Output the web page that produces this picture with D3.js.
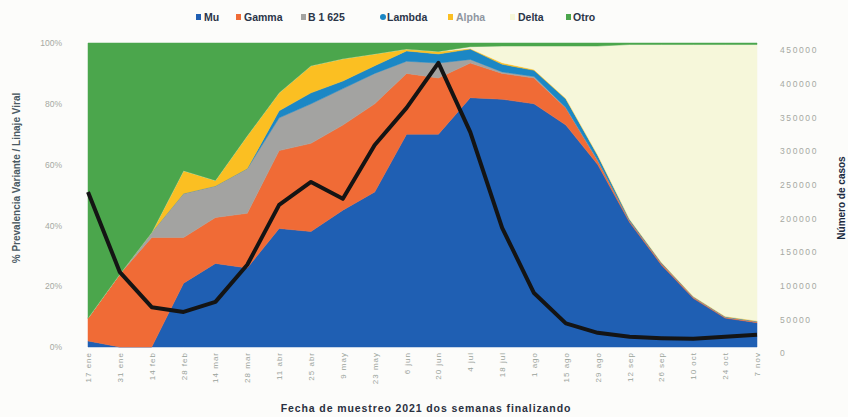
<!DOCTYPE html>
<html><head><meta charset="utf-8">
<script src="https://cdn.jsdelivr.net/npm/d3@7"></script>
<style>
html,body{margin:0;padding:0;background:#fcfcfa;}
svg{display:block;font-family:"Liberation Sans",Arial,sans-serif;}
</style></head>
<body>
<svg id="c" width="848" height="417"></svg>
<script>
// ---- data ----
const dates = ["17 ene","31 ene","14 feb","28 feb","14 mar","28 mar","11 abr","25 abr","9 may","23 may","6 jun","20 jun","4 jul","18 jul","1 ago","15 ago","29 ago","12 sep","26 sep","10 oct","24 oct","7 nov"];
const seriesNames = ["Mu","Gamma","B 1 625","Lambda","Alpha","Delta","Otro"];
const mu     = [2,0,0,21,27.5,26,39,38,45,51,70,70,82,81.5,80,73,60,41,27,16,9.5,8];
const gamma  = [7.5,24,36,15,15.1,18,25.6,29,28,29,20,18.5,11.4,8.5,8.5,5.6,1.3,0.5,0.5,0.4,0.3,0.3];
const b1625  = [0,0,1.7,14.5,10.4,14.7,10.8,13,12,10,4,4.9,1.2,0.5,0.5,0.2,0.2,0.1,0.1,0.1,0.1,0.1];
const lambda = [0,0,0,0,0,0,2.3,3.6,2.5,2.5,3.4,3,3.4,2.5,2,2.8,1.5,0.4,0.2,0.1,0.1,0.1];
const alpha  = [0,0,0,7.5,1.8,10.8,5.9,8.9,7.3,3.9,0.6,0.8,0.2,0.5,0.3,0.2,0.2,0.1,0.1,0.1,0.1,0.1];
const delta  = [0,0,0,0,0,0,0,0,0,0,0,0,0.6,5.5,7.7,17.2,35.8,57.4,71.6,82.8,89.4,90.9];
const otro   = [90.5,76,62.3,42,45.2,30.5,16.4,7.5,5.2,3.6,2,2.8,1.2,1,1,1,1,0.5,0.5,0.5,0.5,0.5];
const casos  = [239000,120000,68000,61000,76000,131000,220000,254000,229000,309000,364000,431000,328000,186000,89000,44000,30000,24000,22000,21000,24000,27000];
const leftTicks  = [0,20,40,60,80,100];
const rightTicks = [0,50000,100000,150000,200000,250000,300000,350000,400000,450000];

// ---- styles / layout ----
const colors = {"Mu":"#1f5fb3","Gamma":"#f06b36","B 1 625":"#a3a3a1","Lambda":"#1b87c5","Alpha":"#fbbf22","Delta":"#f6f7da","Otro":"#4ba64c"};
const legendPos = [[198,204],[238,244],[303,308],[382,387],[450,456],[512,518],[568,573]];

const svg = d3.select("#c");
const x  = d3.scalePoint().domain(dates).range([88, 757]);
const yL = d3.scaleLinear().domain([0,100]).range([347, 43]);
const yR = d3.scaleLinear().domain([0,450000]).range([353, 50]);

const table = dates.map((d,i)=>({date:d,"Mu":mu[i],"Gamma":gamma[i],"B 1 625":b1625[i],"Lambda":lambda[i],"Alpha":alpha[i],"Delta":delta[i],"Otro":otro[i]}));
const stacked = d3.stack().keys(seriesNames)(table);
const area = d3.area().x(d=>x(d.data.date)).y0(d=>yL(d[0])).y1(d=>yL(d[1]));

svg.append("g").selectAll("path").data(stacked).join("path")
  .attr("d", area).attr("fill", d=>colors[d.key]).attr("stroke", d=>colors[d.key]).attr("stroke-width",0.5);

// cases line
svg.append("path").datum(casos)
  .attr("d", d3.line().x((d,i)=>x(dates[i])).y(d=>yR(d)))
  .attr("fill","none").attr("stroke","#141414").attr("stroke-width",4).attr("stroke-linejoin","round");

// left axis
const gl = svg.append("g").attr("transform","translate(62,0)")
  .call(d3.axisLeft(yL).tickValues(leftTicks).tickFormat(d=>d+"%").tickSize(0).tickPadding(0));
gl.select(".domain").remove();
gl.selectAll("text").attr("fill","#a6a9a2").attr("font-size",8.5).attr("font-family","Liberation Sans, Arial");

// right axis
const gr = svg.append("g").attr("transform","translate(780,0)")
  .call(d3.axisRight(yR).tickValues(rightTicks).tickFormat(d3.format("d")).tickSize(0).tickPadding(0));
gr.select(".domain").remove();
gr.selectAll("text").attr("fill","#a6a9a2").attr("font-size",8.5).attr("letter-spacing",1.6).attr("font-family","Liberation Sans, Arial");

// x axis
const gx = svg.append("g").attr("transform","translate(0,352)")
  .call(d3.axisBottom(x).tickSize(0).tickPadding(0));
gx.select(".domain").remove();
gx.selectAll("text").attr("fill","#9aa39a").attr("font-size",8).attr("letter-spacing",1)
  .attr("text-anchor","end").attr("dy","0.32em").attr("transform","rotate(-90)").attr("x",0).attr("y",0);

// axis titles
svg.append("text").attr("transform","translate(20,178) rotate(-90)").attr("text-anchor","middle")
  .attr("font-size",10).attr("font-weight",600).attr("fill","#4b5a63").text("% Prevalencia Variante / Linaje Viral");
svg.append("text").attr("transform","translate(845,198) rotate(-90)").attr("text-anchor","middle")
  .attr("font-size",10).attr("font-weight",700).attr("fill","#1b2a40").text("Número de casos");
svg.append("text").attr("x",426).attr("y",412).attr("text-anchor","middle")
  .attr("font-size",10.5).attr("letter-spacing",0.9).attr("font-weight",600).attr("fill","#2a3040")
  .text("Fecha de muestreo 2021  dos semanas finalizando");

// legend
const lg = svg.append("g");
seriesNames.forEach((n,i)=>{
  const [mx,tx] = legendPos[i];
  if(n==="Lambda"){
    lg.append("circle").attr("cx",mx+1).attr("cy",17).attr("r",3).attr("fill",colors[n]);
  } else {
    lg.append("rect").attr("x",mx-2).attr("y",14).attr("width",5).attr("height",6).attr("fill",colors[n]);
  }
  lg.append("text").attr("x",tx).attr("y",21).attr("font-size",10.5).attr("font-weight",700)
    .attr("fill", n==="Alpha" ? "#8f96a0" : "#2b3548").text(n);
});
</script>
</body></html>
